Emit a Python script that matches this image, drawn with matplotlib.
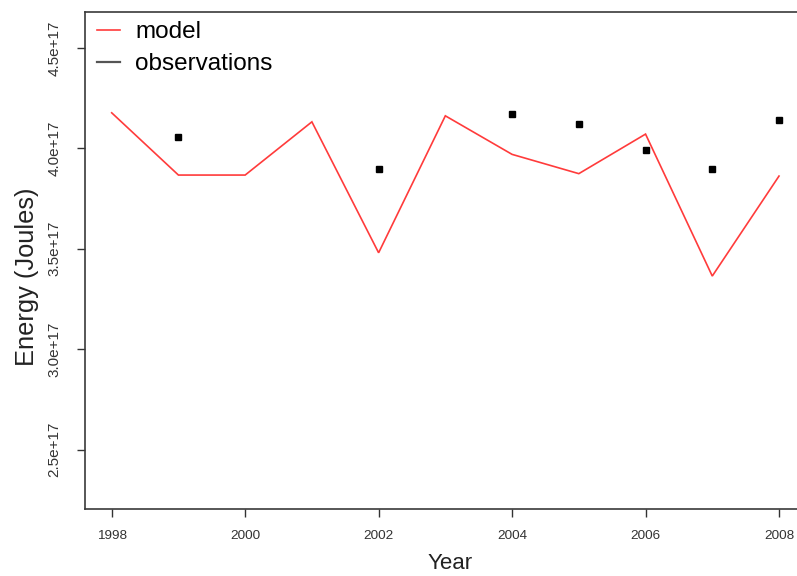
import matplotlib
matplotlib.use("Agg")
import matplotlib.pyplot as plt
from matplotlib.lines import Line2D

# Annual energy: model run vs. observed values
years = [1998, 1999, 2000, 2001, 2002, 2003, 2004, 2005, 2006, 2007, 2008]
model_energy = [4.177e17, 3.867e17, 3.867e17, 4.132e17, 3.480e17, 4.162e17,
                3.970e17, 3.874e17, 4.071e17, 3.364e17, 3.862e17]

obs_years = [1999, 2002, 2004, 2005, 2006, 2007, 2008]
obs_energy = [4.056e17, 3.897e17, 4.169e17, 4.121e17, 3.992e17, 3.897e17, 4.141e17]

x_ticks = [1998, 2000, 2002, 2004, 2006, 2008]
y_ticks = [2.5e17, 3.0e17, 3.5e17, 4.0e17, 4.5e17]
y_tick_labels = ["2.5e+17", "3.0e+17", "3.5e+17", "4.0e+17", "4.5e+17"]

plt.rcParams["font.family"] = ["Liberation Sans", "DejaVu Sans"]

W, H = 797, 576
fig = plt.figure(figsize=(W / 100, H / 100), dpi=100)
ax = fig.add_axes([85 / W, 67 / H, 720.7 / W, 497 / H])

ax.plot(years, model_energy, color="#ff3b3b", lw=1.2, solid_joinstyle="miter")
ax.plot(obs_years, obs_energy, linestyle="none", marker="s", ms=5,
        color="black", mec="black")

ax.set_xlim(1997.6, 2008.4)
ax.set_ylim(2.204e17, 4.679e17)

ax.set_xticks(x_ticks)
ax.set_xticklabels([str(y) for y in x_ticks])
ax.set_yticks(y_ticks)
ax.set_yticklabels(y_tick_labels, rotation=90, va="center")

ax.tick_params(axis="x", length=6, width=1, color="#333333", pad=9,
               labelsize=9.7, labelcolor="#333333")
ax.tick_params(axis="y", length=6, width=1, color="#333333", pad=11,
               labelsize=11, labelcolor="#333333")

for sp in ax.spines.values():
    sp.set_color("#3a3a3a")
    sp.set_linewidth(1.2)
ax.spines["right"].set_visible(False)

ax.set_xlabel("Year", fontsize=16, color="#222222", labelpad=8)
ax.xaxis.label.set_x(0.507)
ax.set_ylabel("Energy (Joules)", fontsize=18.3, color="#222222", labelpad=6)
ax.yaxis.label.set_y(0.467)

handles = [Line2D([], [], color="#ff3b3b", lw=1.2),
           Line2D([], [], color="#555555", lw=1.6)]
ax.legend(handles, ["model", "observations"], loc="upper left", frameon=False,
          bbox_to_anchor=(0.0167, 1 - 9 / 497), borderaxespad=0, borderpad=0,
          fontsize=17.5, handlelength=0.95, handletextpad=0.62,
          labelspacing=0.42)

fig.savefig("out.png", dpi=100, facecolor="white")
